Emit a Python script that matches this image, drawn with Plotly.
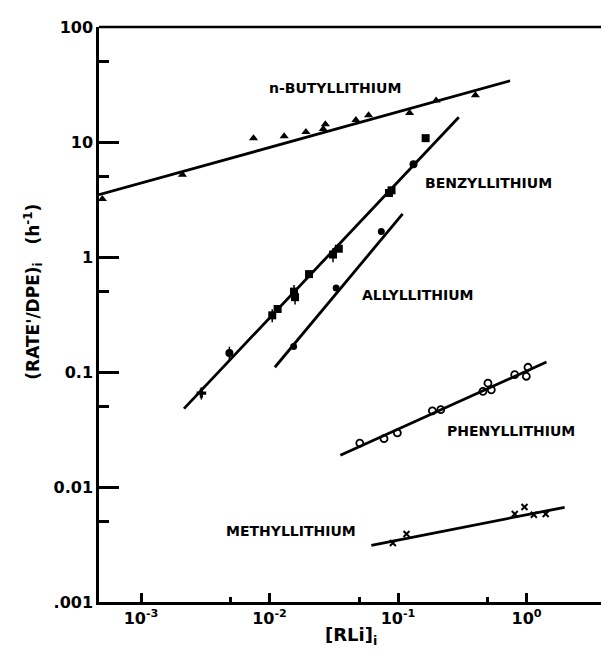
import plotly.graph_objects as go
import math

# ---------------- data ----------------
butyl_x = [5.0e-4, 2.1e-3, 7.5e-3, 0.013, 0.0192, 0.0262, 0.0272, 0.047, 0.059, 0.123, 0.198, 0.40]
butyl_y = [3.2, 5.2, 10.8, 11.2, 12.2, 13.0, 14.3, 15.5, 17.1, 17.9, 22.9, 25.5]
butyl_fit_x = [4.71e-4, 0.745]
butyl_fit_y = [3.48, 34.1]

benzyl_x = [2.95e-3, 4.87e-3, 0.0105, 0.01156, 0.0155, 0.0158, 0.0203, 0.0312, 0.0346, 0.085, 0.089, 0.132, 0.164]
benzyl_y = [0.0656, 0.146, 0.311, 0.353, 0.50, 0.447, 0.71, 1.05, 1.18, 3.6, 3.8, 6.4, 10.8]
benzyl_err = [0.008, 0.02, 0.04, 0.0, 0.07, 0.06, 0.0, 0.15, 0.0, 0.0, 0.0, 0.0, 0.0]
benzyl_fit_x = [2.16e-3, 0.297]
benzyl_fit_y = [0.048, 16.4]

allyl_x = [0.0154, 0.033, 0.0741]
allyl_y = [0.167, 0.537, 1.67]
allyl_fit_x = [0.0110, 0.1086]
allyl_fit_y = [0.11, 2.37]

phenyl_x = [0.0504, 0.0778, 0.0988, 0.185, 0.215, 0.458, 0.501, 0.532, 0.809, 0.996, 1.026]
phenyl_y = [0.0241, 0.0263, 0.0295, 0.046, 0.047, 0.0679, 0.080, 0.070, 0.0948, 0.0918, 0.11]
phenyl_fit_x = [0.0356, 1.43]
phenyl_fit_y = [0.0189, 0.122]

methyl_x = [0.0912, 0.1164, 0.81, 0.964, 1.14, 1.41]
methyl_y = [0.00326, 0.0039, 0.00582, 0.0067, 0.00574, 0.00582]
methyl_fit_x = [0.062, 1.98]
methyl_fit_y = [0.00311, 0.00666]

y_tickvals = [0.001, 0.01, 0.1, 1, 10, 100]
y_ticktext = [".001", "0.01", "0.1", "1", "10", "100"]
y_minor = [0.005, 0.05, 0.5, 5, 50]
x_tickvals = [1e-3, 1e-2, 1e-1, 1]
x_ticktext = ["10<sup>-3</sup>", "10<sup>-2</sup>", "10<sup>-1</sup>", "10<sup>0</sup>"]
x_minor = [5e-3, 5e-2, 5e-1]

labels = [
    ("n-BUTYLLITHIUM", 0.0324, 29.5),
    ("BENZYLLITHIUM", 0.506, 4.4),
    ("ALLYLLITHIUM", 0.142, 0.468),
    ("PHENYLLITHIUM", 0.757, 0.0307),
    ("METHYLLITHIUM", 0.0146, 0.00414),
]

# ---------------- figure ----------------
LINE = dict(color="black", width=2.8)
fig = go.Figure()

for fx, fy in [(butyl_fit_x, butyl_fit_y), (benzyl_fit_x, benzyl_fit_y), (allyl_fit_x, allyl_fit_y),
               (phenyl_fit_x, phenyl_fit_y), (methyl_fit_x, methyl_fit_y)]:
    fig.add_trace(go.Scatter(x=fx, y=fy, mode="lines", line=LINE, showlegend=False, hoverinfo="skip"))

fig.add_trace(go.Scatter(x=butyl_x, y=butyl_y, mode="markers",
                         marker=dict(symbol="triangle-up", size=8, color="black"), showlegend=False))

benzyl_sym = ["cross", "circle", "square", "square", "square", "square", "square", "square",
              "square", "square", "square", "circle", "square"]
fig.add_trace(go.Scatter(x=benzyl_x, y=benzyl_y, mode="markers",
                         marker=dict(symbol=benzyl_sym, size=8, color="black"),
                         error_y=dict(type="data", array=benzyl_err, color="black", thickness=1.5, width=0),
                         showlegend=False))

fig.add_trace(go.Scatter(x=allyl_x, y=allyl_y, mode="markers",
                         marker=dict(symbol="circle", size=7, color="black"), showlegend=False))

fig.add_trace(go.Scatter(x=phenyl_x, y=phenyl_y, mode="markers",
                         marker=dict(symbol="circle-open", size=7, color="black", line=dict(width=1.8)),
                         showlegend=False))

fig.add_trace(go.Scatter(x=methyl_x, y=methyl_y, mode="markers",
                         marker=dict(symbol="x-thin", size=6, color="black", line=dict(width=2, color="black")),
                         showlegend=False))

FONT = dict(family="DejaVu Sans", size=14, color="black", weight="bold")
for text, lx, ly in labels:
    fig.add_annotation(x=math.log10(lx), y=math.log10(ly), xref="x", yref="y", text=text,
                       showarrow=False, font=FONT, xanchor="center", yanchor="middle")

# axis titles
fig.add_annotation(xref="paper", yref="paper", x=-0.127, y=0.54,
                   text="(RATE'/DPE)<sub>i</sub>   (h<sup>-1</sup>)", textangle=-90,
                   showarrow=False, font=dict(family="DejaVu Sans", size=17, color="black", weight="bold"),
                   xanchor="center", yanchor="middle")
fig.add_annotation(xref="paper", yref="paper", x=0.486, y=-0.083,
                   text="[RLi]<sub>i</sub>", showarrow=False,
                   font=dict(family="DejaVu Sans", size=18, color="black", weight="bold"),
                   xanchor="center", yanchor="bottom")

# top frame line
fig.add_shape(type="line", xref="paper", yref="paper", x0=0, x1=1, y0=1, y1=1,
              line=dict(color="black", width=2.5))

fig.update_xaxes(type="log", range=[-3.327, 0.704], showgrid=False, zeroline=False,
                 showline=True, linecolor="black", linewidth=2.5,
                 ticks="inside", ticklen=9, tickwidth=2.5, tickcolor="black",
                 tickvals=x_tickvals, ticktext=x_ticktext,
                 tickfont=dict(family="DejaVu Sans", size=16, color="black", weight="bold"),
                 minor=dict(tickvals=x_minor, ticks="inside", ticklen=5, tickwidth=2.5, tickcolor="black"))
fig.update_yaxes(type="log", range=[-3, 2], showgrid=False, zeroline=False,
                 showline=True, linecolor="black", linewidth=2.5,
                 ticks="inside", ticklen=20, tickwidth=2.5, tickcolor="black",
                 tickvals=y_tickvals, ticktext=y_ticktext,
                 tickfont=dict(family="DejaVu Sans", size=16, color="black", weight="bold"),
                 minor=dict(tickvals=y_minor, ticks="inside", ticklen=10, tickwidth=2.5, tickcolor="black"))

fig.update_layout(width=609, height=650, margin=dict(l=91, r=0, t=19, b=56),
                  plot_bgcolor="white", paper_bgcolor="white", showlegend=False)

fig.write_html("out.html")
